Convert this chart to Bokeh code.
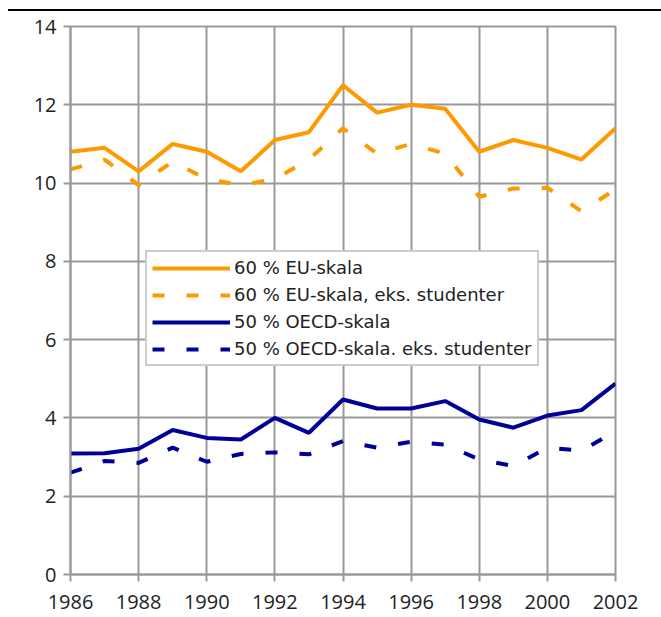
from bokeh.plotting import figure
from bokeh.models import FixedTicker, Legend, LegendItem, Div, Range1d
from bokeh.layouts import column
from bokeh.embed import file_html
from bokeh.resources import INLINE

years = list(range(1986, 2003))
eu60 = [10.8, 10.9, 10.3, 11.0, 10.8, 10.3, 11.1, 11.3, 12.5, 11.8, 12.0, 11.9, 10.8, 11.1, 10.9, 10.6, 11.4]
eu60_eks = [10.35, 10.6, 9.95, 10.55, 10.1, 9.95, 10.1, 10.6, 11.4, 10.75, 11.0, 10.75, 9.65, 9.86, 9.88, 9.28, 9.84]
oecd50 = [3.09, 3.1, 3.21, 3.69, 3.49, 3.45, 4.0, 3.62, 4.47, 4.24, 4.24, 4.43, 3.96, 3.75, 4.06, 4.2, 4.88]
oecd50_eks = [2.6, 2.9, 2.85, 3.24, 2.88, 3.08, 3.12, 3.07, 3.41, 3.24, 3.39, 3.32, 2.94, 2.77, 3.24, 3.16, 3.66]
labels = ["60 % EU-skala", "60 % EU-skala, eks. studenter", "50 % OECD-skala", "50 % OECD-skala. eks. studenter"]
x_ticks = list(range(1986, 2003, 2))
y_ticks = list(range(0, 15, 2))

ORANGE = "#FF9900"
BLUE = "#000099"
GRID = "#999999"
FONT = "Open Sans"

p = figure(width=653, height=605, output_backend="svg", toolbar_location=None,
           x_range=Range1d(1986, 2002), y_range=Range1d(0, 14),
           min_border_left=70, min_border_right=38, min_border_top=15, min_border_bottom=42)
p.outline_line_color = GRID
p.outline_line_width = 2
p.background_fill_color = "white"

for ax in (p.xaxis[0], p.yaxis[0]):
    ax.axis_line_color = GRID
    ax.axis_line_width = 2
    ax.major_tick_line_color = GRID
    ax.major_tick_line_width = 2
    ax.major_tick_out = 7
    ax.major_tick_in = 0
    ax.minor_tick_line_color = None
    ax.major_label_text_font = FONT
    ax.major_label_text_font_size = "20px"
    ax.major_label_text_color = "#222222"

p.xaxis.ticker = FixedTicker(ticks=x_ticks)
p.yaxis.ticker = FixedTicker(ticks=y_ticks)
p.xaxis.major_label_standoff = 13
p.yaxis.major_label_standoff = 7

p.xgrid.ticker = FixedTicker(ticks=x_ticks)
p.ygrid.ticker = FixedTicker(ticks=y_ticks)
for g in (p.xgrid[0], p.ygrid[0]):
    g.grid_line_color = GRID
    g.grid_line_width = 2

r1 = p.line(years, eu60, line_color=ORANGE, line_width=4)
r2 = p.line(years, eu60_eks, line_color=ORANGE, line_width=4, line_dash="12 22")
r3 = p.line(years, oecd50, line_color=BLUE, line_width=4)
r4 = p.line(years, oecd50_eks, line_color=BLUE, line_width=4, line_dash="12 22")

legend = Legend(items=[LegendItem(label=labels[0], renderers=[r1]),
                       LegendItem(label=labels[1], renderers=[r2]),
                       LegendItem(label=labels[2], renderers=[r3]),
                       LegendItem(label=labels[3], renderers=[r4])],
                location=(75, 208))
legend.label_text_font = "DejaVu Sans"
legend.label_text_font_size = "18px"
legend.label_text_color = "#222222"
legend.glyph_width = 78
legend.glyph_height = 20
legend.label_height = 20
legend.spacing = 6
legend.padding = 5
legend.margin = 0
legend.label_standoff = 4
legend.border_line_color = GRID
legend.border_line_width = 2
legend.background_fill_alpha = 1.0
p.add_layout(legend, "center")

top_line = Div(text="", width=653, height=2, margin=(9, 0, 0, 8),
               styles={"border-top": "2px solid #000000", "box-sizing": "border-box"})

layout = column(top_line, p, spacing=0)
open("out.html", "w").write(file_html(layout, INLINE))
